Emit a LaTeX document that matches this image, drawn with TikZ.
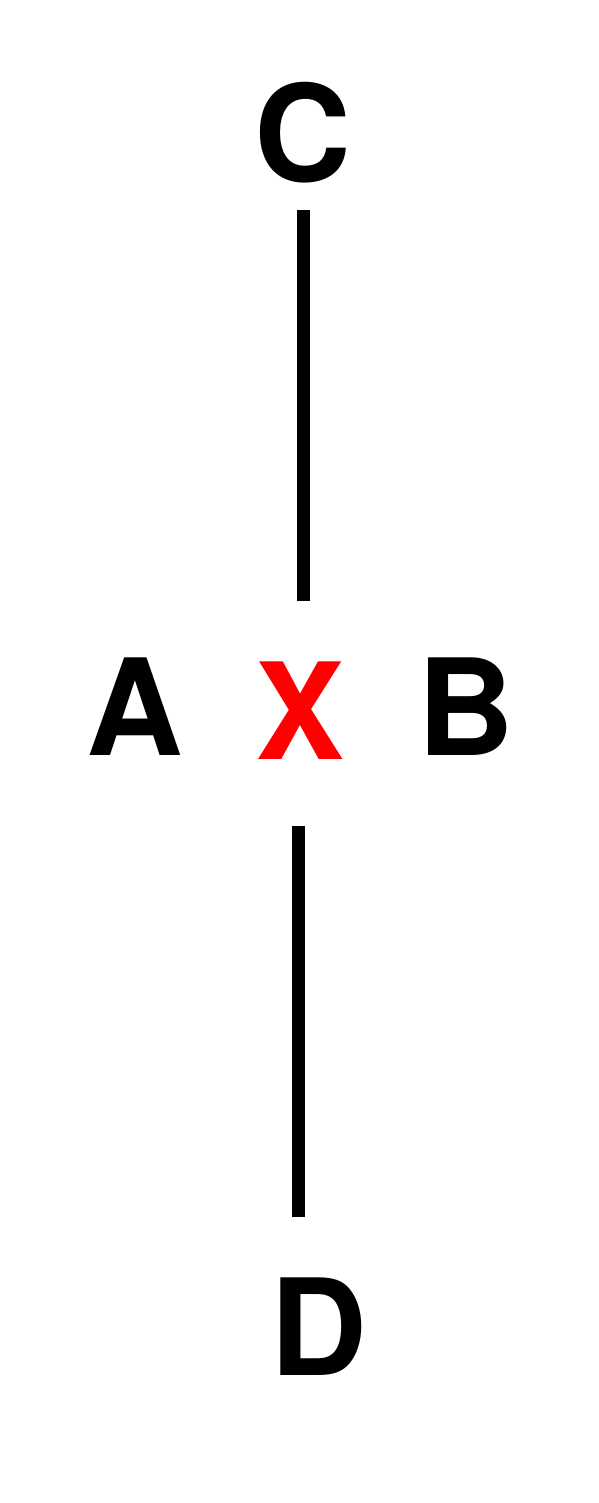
\documentclass[tikz,border=0pt]{standalone}
\usepackage{fontspec}
\setmainfont{TeX Gyre Heros}
\begin{document}
\begin{tikzpicture}[x=1pt,y=-1pt,
  lab/.style={font=\fontsize{134}{136}\selectfont\bfseries, inner sep=0pt, anchor=base},
  conn/.style={line width=13pt, line cap=butt}]
\useasboundingbox (0,0) rectangle (598,1503);
\node[lab] (C) at (303,182) {C};
\node[lab] (A) at (135,755) {A};
\node[lab, text={rgb,255:red,255;green,0;blue,0}] (X) at (300,759) {X};
\node[lab] (B) at (466,755) {B};
\node[lab] (D) at (319,1375) {D};
\coordinate (c1) at (303,210);
\coordinate (c2) at (303,601);
\coordinate (d1) at (298.5,826);
\coordinate (d2) at (298.5,1217);
\draw[conn] (c1) -- (c2);
\draw[conn] (d1) -- (d2);
\end{tikzpicture}
\end{document}
